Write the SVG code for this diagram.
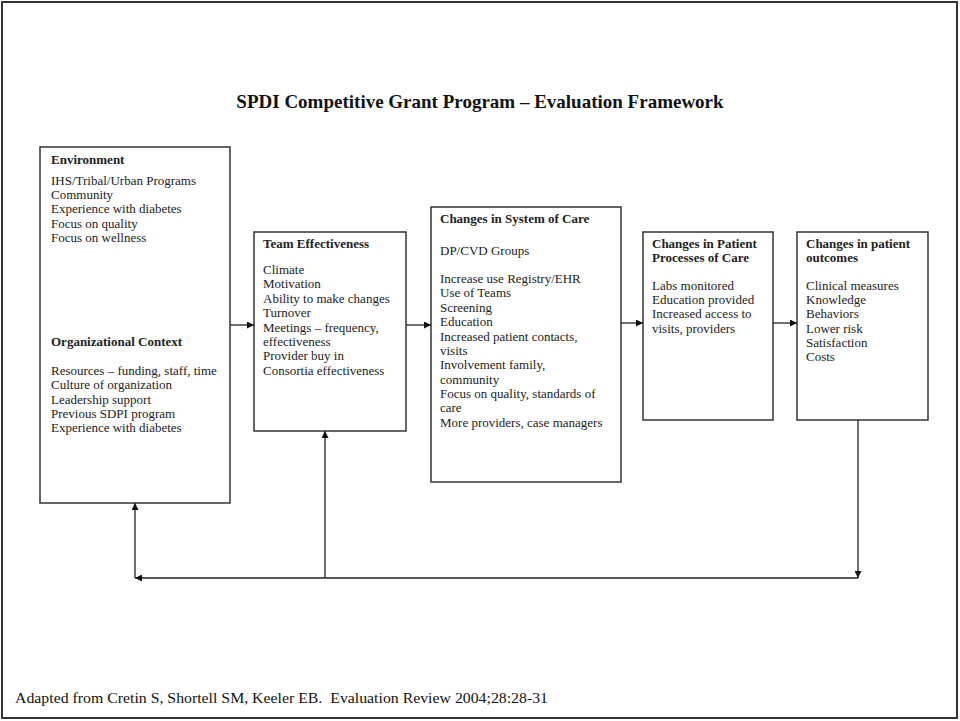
<svg xmlns="http://www.w3.org/2000/svg" width="960" height="721" viewBox="0 0 960 721">
<style>
.box{fill:#fff;stroke:#333;stroke-width:1.5}
.t{font-family:"Liberation Serif","Times New Roman",serif;font-size:13px;fill:#222}
.b{font-weight:bold}
.c{stroke:#222;stroke-width:1.3;fill:none}
.s{font-family:"Liberation Serif","Times New Roman",serif;fill:#111}
</style>
<defs>
<marker id="ah" viewBox="0 0 10 10" refX="10" refY="5" markerWidth="7" markerHeight="7" orient="auto" markerUnits="userSpaceOnUse">
<path d="M0,0 L10,5 L0,10 z" fill="#111"/>
</marker>
</defs>
<rect x="0" y="0" width="960" height="721" fill="#fff"/>
<rect x="2" y="2" width="955" height="716" fill="none" stroke="#333" stroke-width="2"/>
<text class="s" x="480" y="108" text-anchor="middle" font-size="19" font-weight="bold">SPDI Competitive Grant Program – Evaluation Framework</text>

<g id="environment">
<rect class="box" x="40" y="147" width="190" height="356"/>
<text class="t" x="51"><tspan class="b" y="164">Environment</tspan>
<tspan x="51" y="185">IHS/Tribal/Urban Programs</tspan>
<tspan x="51" y="199">Community</tspan>
<tspan x="51" y="213">Experience with diabetes</tspan>
<tspan x="51" y="228">Focus on quality</tspan>
<tspan x="51" y="242">Focus on wellness</tspan>
<tspan x="51" y="346" class="b">Organizational Context</tspan>
<tspan x="51" y="375">Resources – funding, staff, time</tspan>
<tspan x="51" y="389">Culture of organization</tspan>
<tspan x="51" y="404">Leadership support</tspan>
<tspan x="51" y="418">Previous SDPI program</tspan>
<tspan x="51" y="432">Experience with diabetes</tspan></text>
</g>

<g id="team">
<rect class="box" x="254" y="232" width="152" height="199"/>
<text class="t" x="263"><tspan class="b" y="248">Team Effectiveness</tspan>
<tspan x="263" y="274">Climate</tspan>
<tspan x="263" y="288">Motivation</tspan>
<tspan x="263" y="303">Ability to make changes</tspan>
<tspan x="263" y="317">Turnover</tspan>
<tspan x="263" y="332">Meetings – frequency,</tspan>
<tspan x="263" y="346">effectiveness</tspan>
<tspan x="263" y="360">Provider buy in</tspan>
<tspan x="263" y="375">Consortia effectiveness</tspan></text>
</g>

<g id="system">
<rect class="box" x="431" y="207" width="190" height="275"/>
<text class="t" x="440"><tspan class="b" y="223">Changes in System of Care</tspan>
<tspan x="440" y="255">DP/CVD Groups</tspan>
<tspan x="440" y="283">Increase use Registry/EHR</tspan>
<tspan x="440" y="297">Use of Teams</tspan>
<tspan x="440" y="312">Screening</tspan>
<tspan x="440" y="326">Education</tspan>
<tspan x="440" y="341">Increased patient contacts,</tspan>
<tspan x="440" y="355">visits</tspan>
<tspan x="440" y="369">Involvement family,</tspan>
<tspan x="440" y="384">community</tspan>
<tspan x="440" y="398">Focus on quality, standards of</tspan>
<tspan x="440" y="412">care</tspan>
<tspan x="440" y="427">More providers, case managers</tspan></text>
</g>

<g id="processes">
<rect class="box" x="643" y="232" width="130" height="188"/>
<text class="t" x="652"><tspan class="b" y="248">Changes in Patient</tspan>
<tspan x="652" y="262" class="b">Processes of Care</tspan>
<tspan x="652" y="290">Labs monitored</tspan>
<tspan x="652" y="304">Education provided</tspan>
<tspan x="652" y="318">Increased access to</tspan>
<tspan x="652" y="333">visits, providers</tspan></text>
</g>

<g id="outcomes">
<rect class="box" x="797" y="232" width="131" height="188"/>
<text class="t" x="806"><tspan class="b" y="248">Changes in patient</tspan>
<tspan x="806" y="262" class="b">outcomes</tspan>
<tspan x="806" y="290">Clinical measures</tspan>
<tspan x="806" y="304">Knowledge</tspan>
<tspan x="806" y="318">Behaviors</tspan>
<tspan x="806" y="333">Lower risk</tspan>
<tspan x="806" y="347">Satisfaction</tspan>
<tspan x="806" y="361">Costs</tspan></text>
</g>

<g id="connectors">
<line class="c" x1="230" y1="325" x2="254" y2="325" marker-end="url(#ah)"/>
<line class="c" x1="406" y1="325" x2="431" y2="325" marker-end="url(#ah)"/>
<line class="c" x1="621" y1="323" x2="643" y2="323" marker-end="url(#ah)"/>
<line class="c" x1="773" y1="323" x2="797" y2="323" marker-end="url(#ah)"/>
<line class="c" x1="858" y1="420" x2="858" y2="578" marker-end="url(#ah)"/>
<line class="c" x1="858" y1="578" x2="135" y2="578" marker-end="url(#ah)"/>
<line class="c" x1="135" y1="578" x2="135" y2="503" marker-end="url(#ah)"/>
<line class="c" x1="325" y1="578" x2="325" y2="431" marker-end="url(#ah)"/>
</g>

<text class="s" x="15" y="703" font-size="15.5" fill="#222" textLength="533" lengthAdjust="spacingAndGlyphs" xml:space="preserve">Adapted from Cretin S, Shortell SM, Keeler EB.  Evaluation Review 2004;28:28-31</text>
</svg>
